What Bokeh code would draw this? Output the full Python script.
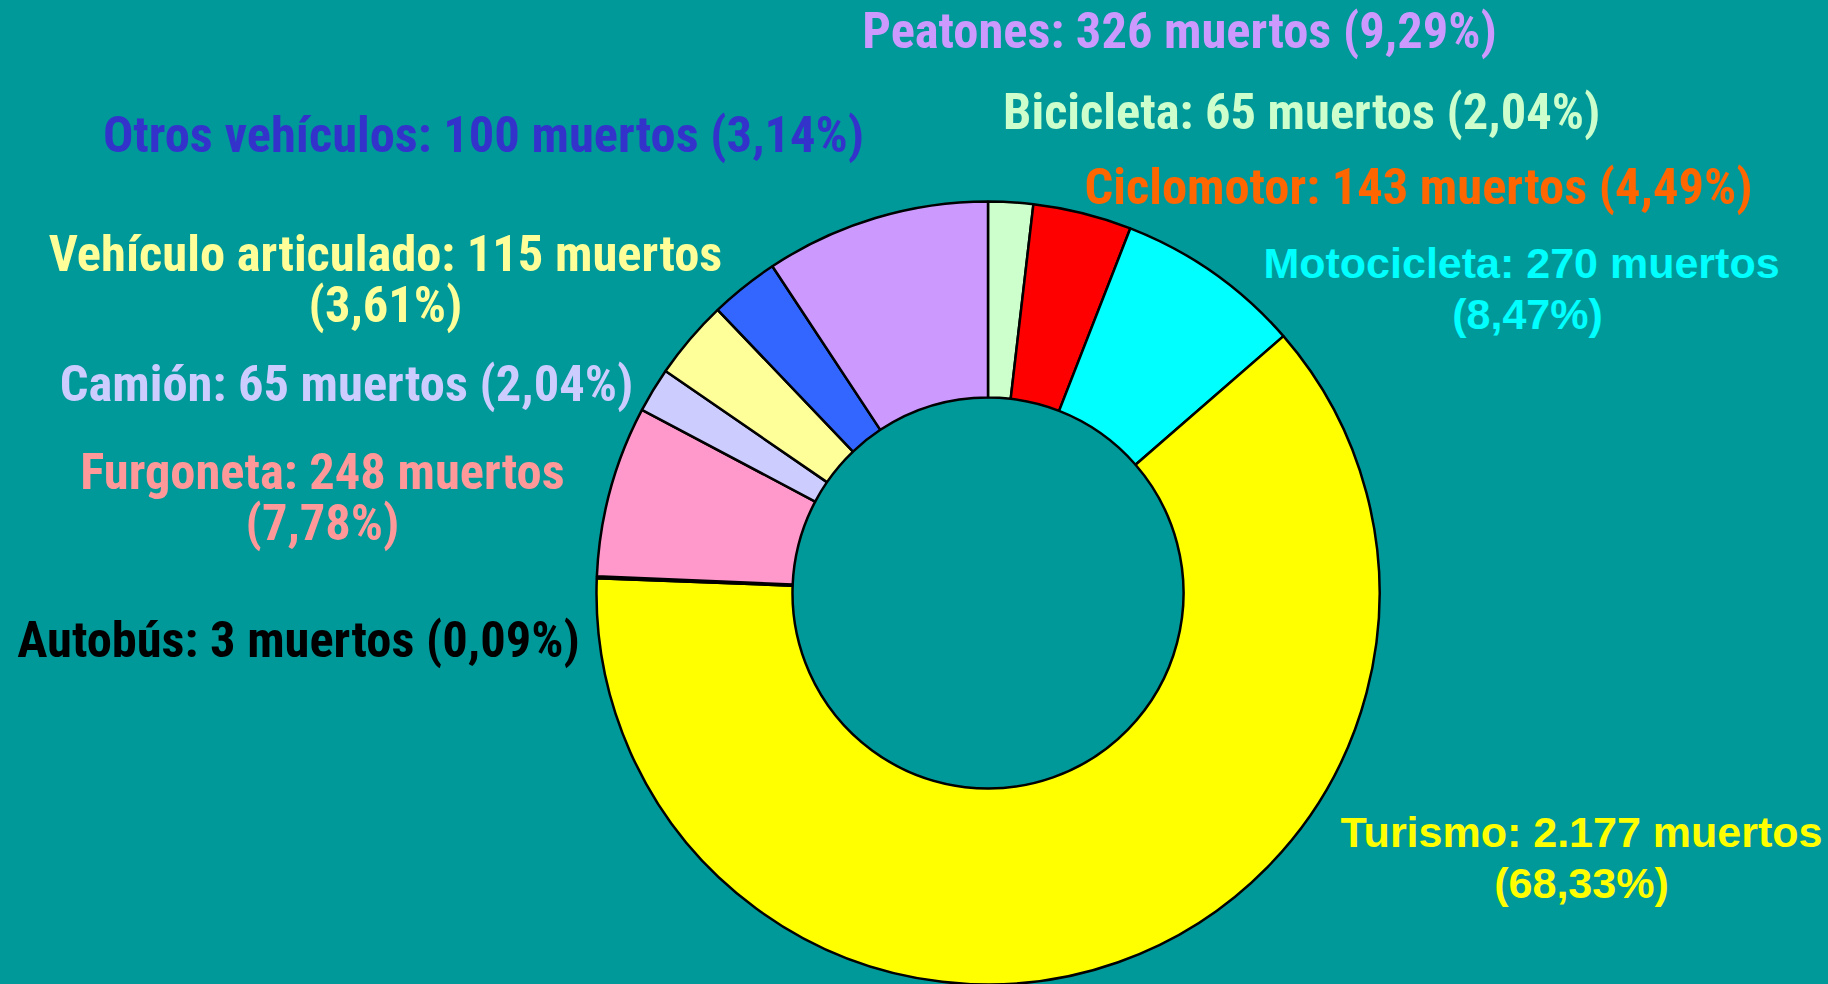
import math
from bokeh.plotting import figure
from bokeh.models import ColumnDataSource, Range1d
from bokeh.core.properties import value
from bokeh.embed import file_html
from bokeh.resources import INLINE

# ---- data (clockwise from 12 o'clock) ----
categories = ["Bicicleta", "Ciclomotor", "Motocicleta", "Turismo", "Autobús",
              "Furgoneta", "Camión", "Vehículo articulado", "Otros vehículos", "Peatones"]
deaths = [65, 143, 270, 2177, 3, 248, 65, 115, 100, 326]
percents = ["2,04%", "4,49%", "8,47%", "68,33%", "0,09%", "7,78%", "2,04%", "3,61%", "3,14%", "9,29%"]
label_lines = [
    ["Bicicleta: 65  muertos (2,04%)"],
    ["Ciclomotor: 143 muertos (4,49%)"],
    ["Motocicleta: 270  muertos", "(8,47%)"],
    ["Turismo: 2.177 muertos", "(68,33%)"],
    ["Autobús: 3 muertos (0,09%)"],
    ["Furgoneta: 248 muertos", "(7,78%)"],
    ["Camión: 65 muertos (2,04%)"],
    ["Vehículo articulado: 115 muertos", "(3,61%)"],
    ["Otros vehículos: 100 muertos (3,14%)"],
    ["Peatones: 326 muertos (9,29%)"],
]
slice_colors = ["#CCFFCC", "#FF0000", "#00FFFF", "#FFFF00", "#000000",
                "#FF99CC", "#CCCCFF", "#FFFF99", "#3366FF", "#CC99FF"]
text_colors = ["#CCFFCC", "#FF6600", "#00FFFF", "#FFFF00", "#000000",
               "#FF9999", "#CCCCFF", "#FFFF99", "#3333CC", "#CC99FF"]
narrow = [True, True, False, False, True, True, True, True, True, True]

# ---- layout (reference pixel coordinates; Bokeh's page template has no body margin) ----
CW, CH = 1828, 984
CX, CY = 987.5, 592.5
R_OUT, R_IN = 391.5, 195.5
label_x = [1307, 1418, 1527, 1581, 298, 322, 346, 385, 483, 1179]
label_y0 = [111, 186, 262, 831, 639, 471, 383, 253, 134, 30]
LINE_GAP = 51
BG = "#009999"

total = sum(deaths)
starts, ends = [], []
acc = 0.0
for d in deaths:
    a0 = acc / total * 2 * math.pi
    acc += d
    a1 = acc / total * 2 * math.pi
    starts.append(math.pi / 2 - a0)
    ends.append(math.pi / 2 - a1)

p = figure(width=CW, height=CH, output_backend="svg", toolbar_location=None,
           x_range=Range1d(0, CW), y_range=Range1d(0, CH),
           background_fill_color=BG, border_fill_color=BG, min_border=0)
p.axis.visible = False
p.grid.visible = False
p.outline_line_color = None

wsrc = ColumnDataSource(dict(start=starts, end=ends, color=slice_colors, cat=categories))
p.annular_wedge(x=CX, y=CH - CY, inner_radius=R_IN, outer_radius=R_OUT,
                inner_radius_units="screen", outer_radius_units="screen",
                start_angle="start", end_angle="end", direction="clock",
                fill_color="color", line_color="black", line_width=2.5, source=wsrc)

for font, is_narrow, size in (("Roboto Condensed, Liberation Sans", True, "50.5px"),
                              ("Liberation Sans", False, "43px")):
    xs, ys, txt, cols = [], [], [], []
    for i, lines in enumerate(label_lines):
        if narrow[i] != is_narrow:
            continue
        for k, line in enumerate(lines):
            xs.append(label_x[i])
            ys.append(CH - (label_y0[i] + k * LINE_GAP))
            txt.append(line)
            cols.append(text_colors[i])
    src = ColumnDataSource(dict(x=xs, y=ys, t=txt, c=cols))
    p.text(x="x", y="y", text="t", text_color="c", source=src,
           text_font=value(font), text_font_style="bold", text_font_size=size,
           text_align="center", text_baseline="alphabetic")

html = file_html(p, INLINE)
html = html.replace("</head>", "<style>html, body { background-color: %s; overflow: hidden; }</style></head>" % BG, 1)
open("out.html", "w").write(html)
